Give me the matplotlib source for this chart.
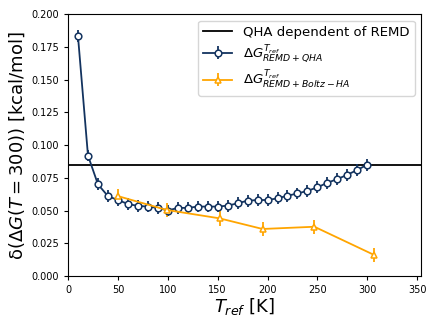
import matplotlib
matplotlib.use("Agg")
import matplotlib.pyplot as plt

# blue series: REMD + QHA
t_qha = [10, 20, 30, 40, 50, 60, 70, 80, 90, 100, 110, 120, 130, 140, 150,
         160, 170, 180, 190, 200, 210, 220, 230, 240, 250, 260, 270, 280, 290, 300]
dg_qha = [0.183, 0.092, 0.070, 0.061, 0.058, 0.055, 0.0535, 0.053, 0.052, 0.050,
          0.052, 0.052, 0.053, 0.053, 0.053, 0.0537, 0.0555, 0.0575, 0.058, 0.058,
          0.0593, 0.0613, 0.063, 0.065, 0.0677, 0.0712, 0.074, 0.0773, 0.081, 0.085]
err_qha = [0.0045] * len(t_qha)

# orange series: REMD + Boltz-HA
t_bha = [50, 99, 152, 195, 247, 307]
dg_bha = [0.061, 0.0504, 0.044, 0.0359, 0.0376, 0.016]
err_bha = [0.0055] * len(t_bha)

qha_remd = 0.0845

NAVY = "#13335f"
ORANGE = "#ffa500"

fig = plt.figure(figsize=(4.36, 3.27), dpi=100)
ax = fig.add_axes([0.156, 0.156, 0.81, 0.801])

ax.axhline(qha_remd, color="black", lw=1.3, label="QHA dependent of REMD")
ax.errorbar(t_qha, dg_qha, yerr=err_qha, color=NAVY, lw=1.3, marker="o", ms=4.8,
            mfc="white", mec=NAVY, mew=1.1, elinewidth=1.3,
            label=r"$\Delta G^{T_{ref}}_{REMD+QHA}$")
ax.errorbar(t_bha, dg_bha, yerr=err_bha, color=ORANGE, lw=1.3, marker="^", ms=4.8,
            mfc="white", mec=ORANGE, mew=1.1, elinewidth=1.3,
            label=r"$\Delta G^{T_{ref}}_{REMD+Boltz-HA}$")

ax.set_xlim(0, 354)
ax.set_ylim(0, 0.2)
ax.set_xticks([0, 50, 100, 150, 200, 250, 300, 350])
ax.set_yticks([0, 0.025, 0.05, 0.075, 0.1, 0.125, 0.15, 0.175, 0.2])
ax.set_yticklabels([f"{v:.3f}" for v in ax.get_yticks()])
ax.tick_params(labelsize=7, length=3)

ax.set_xlabel(r"$T_{ref}$ [K]", fontsize=13, labelpad=1)
ax.set_ylabel(r"δ$(\Delta G(T=300))$ [kcal/mol]", fontsize=13, labelpad=3)

ax.legend(loc="upper right", fontsize=9.5, handlelength=2.2, borderpad=0.4,
          labelspacing=0.3)

fig.savefig("out.png", dpi=100)
